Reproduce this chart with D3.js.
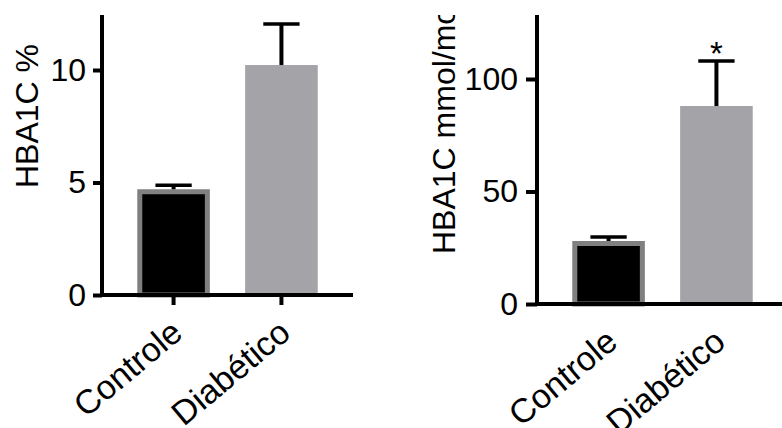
<!DOCTYPE html>
<html>
<head>
<meta charset="utf-8">
<script src="https://cdn.jsdelivr.net/npm/d3@7"></script>
<style>
  body { margin: 0; background: #fff; }
  svg { display: block; font-family: "Liberation Sans", Arial, sans-serif; }
</style>
</head>
<body>
<svg id="chart" width="782" height="428"></svg>
<script>
const categories = ['Controle', 'Diabético'];

// HbA1c in %
const pctMean = [4.7, 10.22];
const pctSem = [0.18, 1.82];
const pctTicks = [0, 5, 10];

// HbA1c in mmol/mol
const mmolMean = [28, 88];
const mmolSem = [1.8, 20];
const mmolTicks = [0, 50, 100];
const mmolMarks = ['', '*'];

const barFill = ['#000000', '#a3a3a8'];
const barStroke = ['#808080', 'none'];

const svg = d3.select('#chart');

// clip so the long y label is cut at the top like the original
svg.append('defs').append('clipPath').attr('id', 'clipTop')
    .append('rect').attr('x', 0).attr('y', 15).attr('width', 782).attr('height', 413);

function drawPanel(p) {
    const g = svg.append('g');

    const x = d3.scaleBand()
        .domain(categories)
        .range([p.axisX, p.axisX + 251])
        .paddingInner(0.327)
        .paddingOuter(0.327);

    const y = d3.scaleLinear()
        .domain([0, p.yMax])
        .range([p.base, p.base - p.yMax * p.k]);

    // bars, the outlined one is inset so its border stays inside the band
    const inset = i => barStroke[i] === 'none' ? 0 : 2.5;
    g.selectAll('rect.bar')
        .data(categories)
        .enter()
        .append('rect')
        .attr('class', 'bar')
        .attr('x', (d, i) => x(d) + inset(i))
        .attr('y', (d, i) => y(p.mean[i]) + inset(i))
        .attr('width', (d, i) => x.bandwidth() - 2 * inset(i))
        .attr('height', (d, i) => y(0) - y(p.mean[i]) - inset(i))
        .attr('fill', (d, i) => barFill[i])
        .attr('stroke', (d, i) => barStroke[i])
        .attr('stroke-width', 5);

    // error bars (upper only)
    const cx = d => x(d) + x.bandwidth() / 2;
    g.selectAll('line.err')
        .data(categories)
        .enter()
        .append('line')
        .attr('x1', cx).attr('x2', cx)
        .attr('y1', (d, i) => y(p.mean[i]))
        .attr('y2', (d, i) => y(p.mean[i] + p.sem[i]))
        .attr('stroke', '#000')
        .attr('stroke-width', 4);
    g.selectAll('line.cap')
        .data(categories)
        .enter()
        .append('line')
        .attr('x1', d => cx(d) - x.bandwidth() / 4)
        .attr('x2', d => cx(d) + x.bandwidth() / 4)
        .attr('y1', (d, i) => y(p.mean[i] + p.sem[i]))
        .attr('y2', (d, i) => y(p.mean[i] + p.sem[i]))
        .attr('stroke', '#000')
        .attr('stroke-width', 3.5);

    if (p.marks) {
        g.selectAll('text.mark')
            .data(categories)
            .enter()
            .append('text')
            .attr('x', cx)
            .attr('y', (d, i) => y(p.mean[i] + p.sem[i]) + 4)
            .attr('text-anchor', 'middle')
            .attr('font-size', 33)
            .text((d, i) => p.marks[i]);
    }

    // y axis
    const yAxis = g.append('g')
        .attr('transform', `translate(${p.axisX},0)`)
        .call(d3.axisLeft(y).tickValues(p.ticks).tickSize(p.tickLen).tickSizeOuter(0).tickPadding(p.tickPad));
    yAxis.select('.domain').remove();
    yAxis.selectAll('line').attr('stroke', '#000').attr('stroke-width', 4);
    yAxis.selectAll('text').attr('font-size', 32).attr('font-family', null).attr('fill', '#000');

    g.append('line')
        .attr('x1', p.axisX).attr('x2', p.axisX)
        .attr('y1', 15).attr('y2', p.base + 2)
        .attr('stroke', '#000').attr('stroke-width', 4);

    // x baseline
    g.append('line')
        .attr('x1', p.axisX).attr('x2', p.xEnd)
        .attr('y1', p.base).attr('y2', p.base)
        .attr('stroke', '#000').attr('stroke-width', 4);

    // x ticks and slanted labels
    const xAxis = g.append('g')
        .attr('transform', `translate(0,${p.base})`)
        .call(d3.axisBottom(x).tickSize(p.xTick).tickSizeOuter(0));
    xAxis.select('.domain').remove();
    xAxis.selectAll('line').attr('stroke', '#000').attr('stroke-width', 4)
        .style('display', p.xTick ? null : 'none');
    xAxis.selectAll('text')
        .attr('font-size', 34)
        .attr('font-family', null)
        .attr('fill', '#000')
        .attr('y', null).attr('dy', null)
        .attr('text-anchor', 'end')
        .attr('transform', 'translate(11,41) rotate(-40)');

    // y label, wrapped so the clip works in screen space
    svg.append('g')
        .attr('clip-path', 'url(#clipTop)')
        .append('text')
        .attr('transform', `translate(${p.labelX},${p.labelY}) rotate(-90)`)
        .attr('text-anchor', 'start')
        .attr('font-size', 32)
        .text(p.label);
}

drawPanel({
    axisX: 102, base: 295, k: 22.5, yMax: 12.5, xEnd: 353,
    mean: pctMean, sem: pctSem, ticks: pctTicks,
    tickLen: 9, tickPad: 7, xTick: 10,
    label: 'HBA1C %', labelX: 38, labelY: 188
});

drawPanel({
    axisX: 537, base: 304, k: 2.25, yMax: 128, xEnd: 782,
    mean: mmolMean, sem: mmolSem, ticks: mmolTicks, marks: mmolMarks,
    tickLen: 11, tickPad: 8, xTick: 0,
    label: 'HBA1C mmol/mol', labelX: 455, labelY: 254
});
</script>
</body>
</html>
